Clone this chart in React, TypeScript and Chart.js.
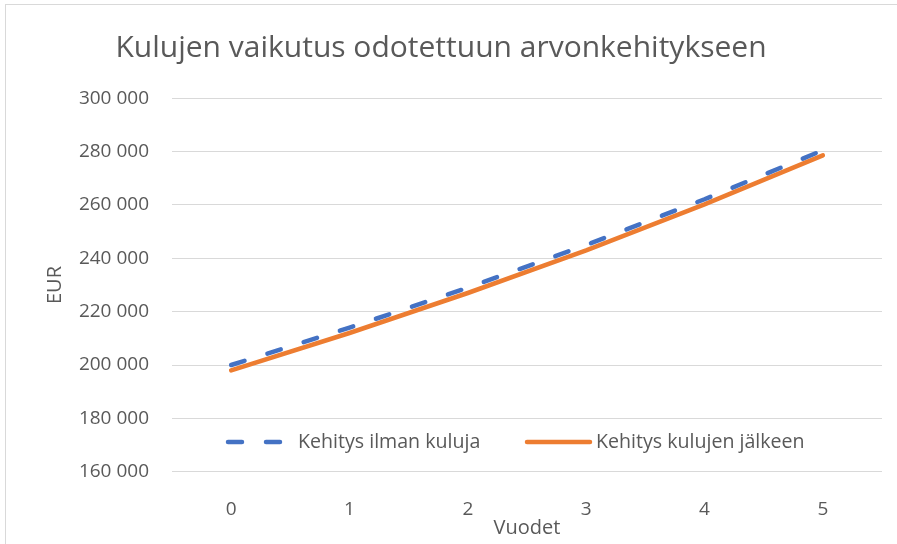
import React, { useEffect, useRef } from "react";
import { Chart, registerables } from "chart.js";

Chart.register(...registerables);

const titleText = "Kulujen vaikutus odotettuun arvonkehitykseen";
const xAxisTitle = "Vuodet";
const yAxisTitle = "EUR";
const years = ["0", "1", "2", "3", "4", "5"];
const seriesNames = ["Kehitys ilman kuluja", "Kehitys kulujen jälkeen"];
const withoutFees = [200000, 214000, 228980, 245010, 262160, 280510];
const afterFees = [198000, 212000, 227000, 243000, 260200, 278600];
const yMin = 160000;
const yMax = 300000;
const yStep = 20000;

const FONT = "'Open Sans', 'Liberation Sans', sans-serif";
const TEXT = "#595959";
const GRID = "#d9d9d9";
const BLUE = "#4472C4";
const ORANGE = "#ED7D31";

const fmt = (v: number) => String(v).replace(/\B(?=(\d{3})+(?!\d))/g, " ");

const legendPlugin = {
  id: "insideLegend",
  afterDraw(chart: any) {
    const { ctx, chartArea } = chart;
    const y = 442;
    const items = [
      { x0: chartArea.left + 56, x1: chartArea.left + 118, tx: chartArea.left + 126, ds: chart.data.datasets[0] },
      { x0: chartArea.left + 355, x1: chartArea.left + 418, tx: chartArea.left + 424, ds: chart.data.datasets[1] },
    ];
    ctx.save();
    for (const it of items) {
      ctx.beginPath();
      ctx.strokeStyle = it.ds.borderColor;
      ctx.lineWidth = it.ds.borderWidth;
      ctx.lineCap = "round";
      ctx.setLineDash(it.ds.borderDash || []);
      ctx.moveTo(it.x0, y);
      ctx.lineTo(it.x1, y);
      ctx.stroke();
      ctx.setLineDash([]);
      ctx.fillStyle = TEXT;
      ctx.font = `19.6px ${FONT}`;
      ctx.textBaseline = "middle";
      ctx.textAlign = "left";
      ctx.fillText(it.ds.label, it.tx, y);
    }
    ctx.restore();
  },
};

export default function App() {
  const ref = useRef<HTMLCanvasElement | null>(null);
  useEffect(() => {
    if (!ref.current) return;
    const chart = new Chart(ref.current, {
      type: "line",
      data: {
        labels: years,
        datasets: [
          {
            label: seriesNames[0],
            data: withoutFees,
            borderColor: BLUE,
            backgroundColor: BLUE,
            borderWidth: 4.5,
            borderDash: [14, 24],
            borderCapStyle: "round",
            pointRadius: 0,
            tension: 0,
          },
          {
            label: seriesNames[1],
            data: afterFees,
            borderColor: ORANGE,
            backgroundColor: ORANGE,
            borderWidth: 4.5,
            borderCapStyle: "round",
            pointRadius: 0,
            tension: 0,
          },
        ],
      },
      plugins: [legendPlugin],
      options: {
        responsive: false,
        animation: false,
        events: [],
        layout: { padding: { left: 0, right: 15, top: 0, bottom: 0 } },
        plugins: {
          legend: { display: false },
          tooltip: { enabled: false },
          title: {
            display: true,
            text: titleText,
            color: TEXT,
            font: { family: FONT, size: 30, weight: "normal" },
            padding: { top: 30, bottom: 32.3 },
          },
        },
        scales: {
          x: {
            type: "category",
            offset: true,
            grid: { display: false },
            border: { display: false },
            ticks: { color: TEXT, font: { family: FONT, size: 19 }, padding: 18, maxRotation: 0 },
            title: {
              display: true,
              text: xAxisTitle,
              color: TEXT,
              font: { family: FONT, size: 20 },
              padding: { top: 0, bottom: 4 },
            },
            afterFit: (s: any) => {
              s.height = 72.3;
            },
          },
          y: {
            min: yMin,
            max: yMax,
            grid: { color: GRID, lineWidth: 1, drawTicks: false },
            border: { display: false },
            ticks: {
              stepSize: yStep,
              color: TEXT,
              font: { family: FONT, size: 19 },
              padding: 23,
              callback: (v: any) => fmt(Number(v)),
            },
            title: {
              display: true,
              text: yAxisTitle,
              color: TEXT,
              font: { family: FONT, size: 20 },
              padding: { top: 43, bottom: 0 },
            },
            afterFit: (s: any) => {
              s.width = 172;
            },
          },
        },
      },
    });
    return () => chart.destroy();
  }, []);

  return (
    <div style={{ position: "fixed", left: 0, top: 0, width: 897, height: 544, overflow: "hidden", background: "#fff" }}>
      <canvas ref={ref} width={897} height={544} style={{ position: "absolute", left: 0, top: 0 }} />
      <div
        style={{
          position: "absolute",
          left: 5,
          top: 4,
          width: 1000,
          height: 1000,
          border: "1px solid #d9d9d9",
          pointerEvents: "none",
        }}
      />
    </div>
  );
}
